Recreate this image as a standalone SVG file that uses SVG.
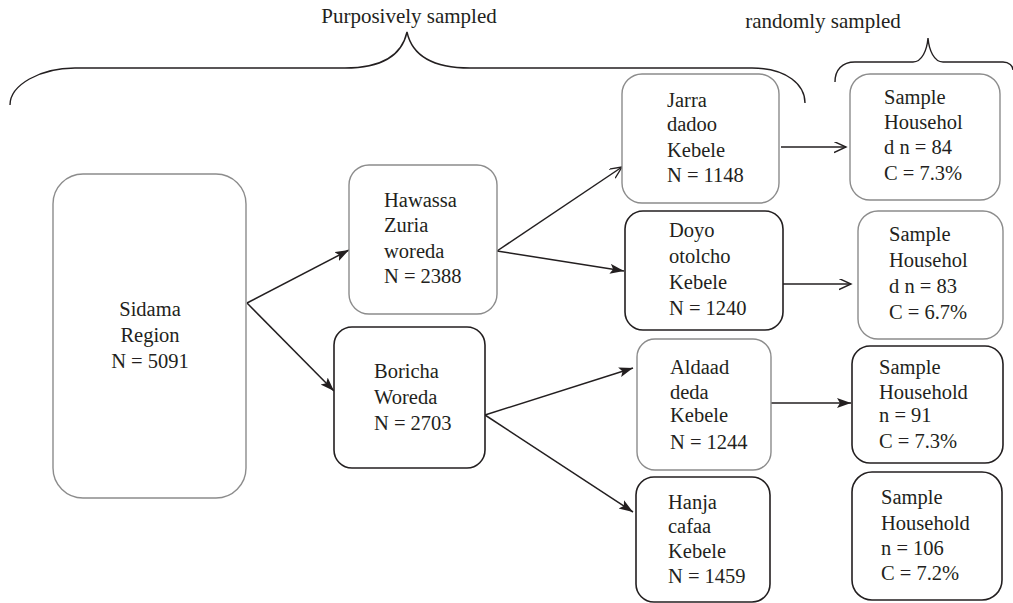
<svg xmlns="http://www.w3.org/2000/svg" width="1013" height="603" viewBox="0 0 1013 603">
<style>
  text { font-family: "Liberation Serif", "Times New Roman", serif; font-size: 20.5px; fill: #231f20; }
  .hdr { font-size: 21px; }
  .gray { fill: #fff; stroke: #8c8c8c; stroke-width: 1.4; }
  .dark { fill: #fff; stroke: #231f20; stroke-width: 1.6; }
  .conn { stroke: #231f20; stroke-width: 1.5; fill: none; }
  .brace { stroke: #231f20; stroke-width: 1.4; fill: none; }
</style>
<defs>
  <marker id="fill" markerUnits="userSpaceOnUse" markerWidth="15" markerHeight="11" refX="14" refY="5" orient="auto">
    <path d="M0,0 L14,5 L0,10 L3,5 z" fill="#231f20"/>
  </marker>
  <marker id="open" markerUnits="userSpaceOnUse" markerWidth="14" markerHeight="12" refX="12" refY="5.5" orient="auto">
    <path d="M0,0 L12,5.5 L0,11" fill="none" stroke="#231f20" stroke-width="1.4"/>
  </marker>
</defs>

<g id="labels">
  <text class="hdr" x="409" y="23" text-anchor="middle">Purposively sampled</text>
  <text class="hdr" x="823" y="28" text-anchor="middle">randomly sampled</text>
</g>

<g id="braces">
  <path class="brace" d="M10,105 C10,85 40,68 75,68 L345,68 C382,68 402,55 407,32 C412,55 432,68 470,68 L752,68 C787,68 805,85 805,103"/>
  <path class="brace" d="M835,82 C835,70 842,62 855,62 L913,62 C922,62 927,50 928,38 C929,50 934,62 943,62 L1003,62 C1009,62 1013,66 1013,70"/>
</g>

<g id="connectors">
  <line class="conn" x1="247" y1="303" x2="349" y2="250" marker-end="url(#fill)"/>
  <line class="conn" x1="247" y1="303" x2="334" y2="391" marker-end="url(#fill)"/>
  <line class="conn" x1="497" y1="251" x2="622" y2="167" marker-end="url(#open)"/>
  <line class="conn" x1="497" y1="251" x2="624" y2="271" marker-end="url(#fill)"/>
  <line class="conn" x1="485" y1="415" x2="633" y2="368" marker-end="url(#fill)"/>
  <line class="conn" x1="485" y1="415" x2="633" y2="512" marker-end="url(#fill)"/>
  <line class="conn" x1="781" y1="147" x2="846" y2="147" marker-end="url(#open)"/>
  <line class="conn" x1="783" y1="284" x2="851" y2="284" marker-end="url(#open)"/>
  <line class="conn" x1="771" y1="403" x2="851" y2="403" marker-end="url(#fill)"/>
</g>

<g id="sidama">
  <rect class="gray" x="53" y="174" width="193" height="324" rx="30" ry="30"/>
  <text x="150" y="316" text-anchor="middle">Sidama</text>
  <text x="150" y="342" text-anchor="middle">Region</text>
  <text x="150" y="368" text-anchor="middle">N = 5091</text>
</g>

<g id="hawassa">
  <rect class="gray" x="349" y="165" width="148" height="149" rx="20" ry="20"/>
  <text x="384" y="207">Hawassa</text>
  <text x="384" y="232">Zuria</text>
  <text x="384" y="258">woreda</text>
  <text x="384" y="283">N = 2388</text>
</g>

<g id="boricha">
  <rect class="dark" x="334" y="327" width="151" height="141" rx="18" ry="18"/>
  <text x="374" y="378">Boricha</text>
  <text x="374" y="404">Woreda</text>
  <text x="374" y="430">N = 2703</text>
</g>

<g id="jarra">
  <rect class="gray" x="622" y="74" width="157" height="129" rx="20" ry="20"/>
  <text x="667" y="107">Jarra</text>
  <text x="667" y="131">dadoo</text>
  <text x="667" y="157">Kebele</text>
  <text x="667" y="182">N = 1148</text>
</g>

<g id="doyo">
  <rect class="dark" x="625" y="211" width="158" height="119" rx="18" ry="18"/>
  <text x="669" y="237">Doyo</text>
  <text x="669" y="263">otolcho</text>
  <text x="669" y="289">Kebele</text>
  <text x="669" y="315">N = 1240</text>
</g>

<g id="aldaad">
  <rect class="gray" x="637" y="339" width="134" height="131" rx="18" ry="18"/>
  <text x="670" y="374">Aldaad</text>
  <text x="670" y="399">deda</text>
  <text x="670" y="422">Kebele</text>
  <text x="670" y="449">N = 1244</text>
</g>

<g id="hanja">
  <rect class="dark" x="636" y="477" width="134" height="125" rx="18" ry="18"/>
  <text x="668" y="509">Hanja</text>
  <text x="668" y="533">cafaa</text>
  <text x="668" y="558">Kebele</text>
  <text x="668" y="583">N = 1459</text>
</g>

<g id="sample1">
  <rect class="gray" x="850" y="74" width="150" height="126" rx="20" ry="20"/>
  <text x="884" y="104">Sample</text>
  <text x="884" y="129">Househol</text>
  <text x="884" y="154">d n = 84</text>
  <text x="884" y="180">C = 7.3%</text>
</g>

<g id="sample2">
  <rect class="gray" x="858" y="211" width="145" height="128" rx="20" ry="20"/>
  <text x="889" y="241">Sample</text>
  <text x="889" y="267">Househol</text>
  <text x="889" y="293">d n = 83</text>
  <text x="889" y="319">C = 6.7%</text>
</g>

<g id="sample3">
  <rect class="dark" x="852" y="346" width="151" height="117" rx="18" ry="18"/>
  <text x="879" y="374">Sample</text>
  <text x="879" y="399">Household</text>
  <text x="879" y="422">n = 91</text>
  <text x="879" y="448">C = 7.3%</text>
</g>

<g id="sample4">
  <rect class="dark" x="852" y="472" width="150" height="128" rx="20" ry="20"/>
  <text x="881" y="504">Sample</text>
  <text x="881" y="530">Household</text>
  <text x="881" y="555">n = 106</text>
  <text x="881" y="580">C = 7.2%</text>
</g>
</svg>
